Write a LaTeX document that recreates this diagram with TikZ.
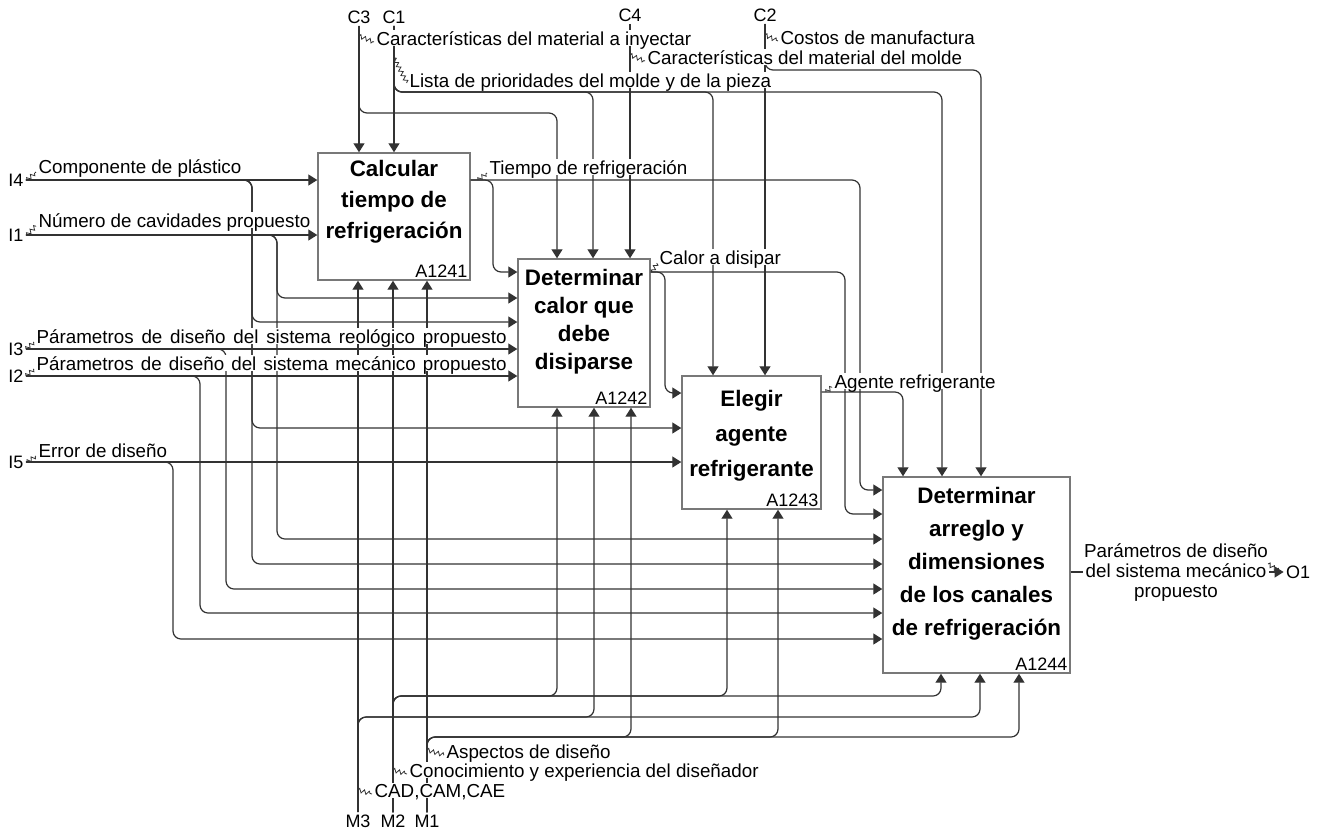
\documentclass[tikz,border=0pt]{standalone}
\usepackage{fontspec}
\setmainfont{Liberation Sans}
\usepackage{tikz}
\usetikzlibrary{arrows.meta,decorations.pathmorphing,positioning,calc}

\begin{document}
\begin{tikzpicture}[x=0.5pt,y=-0.5pt,
    proc/.style={draw=boxgray,line width=0.7pt,inner sep=0pt},
    ptitle/.style={align=center,font={\bfseries\fontsize{11.2}{#1}\selectfont}},
    pid/.style={anchor=south east,inner sep=1.5pt,font=\fontsize{9}{10}\selectfont},
    port/.style={font=\fontsize{9}{10}\selectfont,inner sep=1pt},
    flow/.style={draw=linegray,line width=0.6pt,rounded corners=4pt,-{Triangle[length=4.5pt,width=5.5pt]}},
    lbl/.style={font=\fontsize{9.4}{11}\selectfont,fill=white,inner sep=0.6pt,text depth=0pt},
    squig/.style={draw=linegray,line width=0.4pt,decorate,decoration={zigzag,segment length=2.5pt,amplitude=1pt}}]
    \definecolor{boxgray}{RGB}{120,120,120}
    \definecolor{linegray}{RGB}{50,50,50}

    \useasboundingbox (0,0) rectangle (1317,832);

    \node[proc,minimum width=76pt,minimum height=63.5pt] (a1241) at (394,216.5) {};
    \node[proc,minimum width=66pt,minimum height=74pt] (a1242) at (584,333) {};
    \node[proc,minimum width=69.5pt,minimum height=66.5pt] (a1243) at (751.5,442.5) {};
    \node[proc,minimum width=93.5pt,minimum height=98pt] (a1244) at (976.5,575) {};

    \node[ptitle=15.5pt] (t1241) at (394,202) {Calcular\\tiempo de\\refrigeración};
    \node[ptitle=14pt] (t1242) at (584,322) {Determinar\\calor que\\debe\\disiparse};
    \node[ptitle=17.5pt] (t1243) at (751.5,436) {Elegir\\agente\\refrigerante};
    \node[ptitle=16.5pt] (t1244) at (976.5,564) {Determinar\\arreglo y\\dimensiones\\de los canales\\de refrigeración};

    \node[pid] (n1241) at (a1241.south east) {A1241};
    \node[pid] (n1242) at (a1242.south east) {A1242};
    \node[pid] (n1243) at (a1243.south east) {A1243};
    \node[pid] (n1244) at (a1244.south east) {A1244};

    \node[port] (c3) at (359,17) {C3};
    \node[port] (c1) at (394,17) {C1};
    \node[port] (c4) at (630,15) {C4};
    \node[port] (c2) at (765,15) {C2};
    \node[port] (i4) at (16,180) {I4};
    \node[port] (i1) at (16,235) {I1};
    \node[port] (i3) at (16,349) {I3};
    \node[port] (i2) at (16,376) {I2};
    \node[port] (i5) at (16,462) {I5};
    \node[port] (m3) at (358,821) {M3};
    \node[port] (m2) at (393,821) {M2};
    \node[port] (m1) at (427,821) {M1};
    \node[port] (o1) at (1298,572) {O1};

    \draw[flow] (c3) -- (c3 |- a1241.north);
    \draw[flow] (c3) |- (557,113) -- (557,113 |- a1242.north);
    \draw[flow] (c1) -- (c1 |- a1241.north);
    \draw[flow] (c1) |- (593,92) -- (593,92 |- a1242.north);
    \draw[flow] (c1) |- (713,92) -- (713,92 |- a1243.north);
    \draw[flow] (c1) |- (942,92) -- (942,92 |- a1244.north);
    \draw[flow] (c4) -- (c4 |- a1242.north);
    \draw[flow] (c2) -- (c2 |- a1243.north);
    \draw[flow] (c2) |- (981,70) -- (981,70 |- a1244.north);

    \draw[flow] (i4) -- (i4 -| a1241.west);
    \draw[flow] (i4) -| (252,322) -- (252,322 -| a1242.west);
    \draw[flow] (i4) -| (252,428) -- (252,428 -| a1243.west);
    \draw[flow] (i4) -| (252,564) -- (252,564 -| a1244.west);
    \draw[flow] (i1) -- (i1 -| a1241.west);
    \draw[flow] (i1) -| (277,298) -- (277,298 -| a1242.west);
    \draw[flow] (i1) -| (277,539) -- (277,539 -| a1244.west);
    \draw[flow] (i3) -- (i3 -| a1242.west);
    \draw[flow] (i3) -| (226,589) -- (226,589 -| a1244.west);
    \draw[flow] (i2) -- (i2 -| a1242.west);
    \draw[flow] (i2) -| (200,613) -- (200,613 -| a1244.west);
    \draw[flow] (i5) -- (i5 -| a1243.west);
    \draw[flow] (i5) -| (173,639) -- (173,639 -| a1244.west);

    \draw[flow] (a1241.east |- 0,180) -| (493,272) -- (493,272 -| a1242.west);
    \draw[flow] (a1241.east |- 0,180) -| (860,490) -- (860,490 -| a1244.west);
    \draw[flow] (a1242.east |- 0,272) -| (665,393) -- (665,393 -| a1243.west);
    \draw[flow] (a1242.east |- 0,272) -| (845,514) -- (845,514 -| a1244.west);
    \draw[flow] (a1243.east |- 0,392) -| (903,392 |- a1244.north);
    \draw[flow] (a1244.east |- 0,572) -- (o1);

    \draw[flow] (m3) -- (m3 |- a1241.south);
    \draw[flow] (m3) |- (594,717) -- (594,717 |- a1242.south);
    \draw[flow] (m3) |- (980,717) -- (980,717 |- a1244.south);
    \draw[flow] (m2) -- (m2 |- a1241.south);
    \draw[flow] (m2) |- (557,696) -- (557,696 |- a1242.south);
    \draw[flow] (m2) |- (727,696) -- (727,696 |- a1243.south);
    \draw[flow] (m2) |- (941,696) -- (941,696 |- a1244.south);
    \draw[flow] (m1) -- (m1 |- a1241.south);
    \draw[flow] (m1) |- (631,737) -- (631,737 |- a1242.south);
    \draw[flow] (m1) |- (778,737) -- (778,737 |- a1243.south);
    \draw[flow] (m1) |- (1019,737) -- (1019,737 |- a1244.south);

    \node[lbl,anchor=base west] (l-c3) at (375,45) {Características del material a inyectar};
    \node[lbl,anchor=base west] (l-c1) at (408,87) {Lista de prioridades del molde y de la pieza};
    \node[lbl,anchor=base west] (l-c4) at (646,64) {Características del material del molde};
    \node[lbl,anchor=base west] (l-c2) at (779,44) {Costos de manufactura};
    \node[lbl,anchor=base west] (l-i4) at (37,173) {Componente de plástico};
    \node[lbl,anchor=base west] (l-i1) at (37,227) {Número de cavidades propuesto};
    \node[lbl,anchor=base west] (l-i3) at (35,343) {\makebox[235pt][s]{Párametros de diseño del sistema reológico propuesto}};
    \node[lbl,anchor=base west] (l-i2) at (35,370) {\makebox[235pt][s]{Párametros de diseño del sistema mecánico propuesto}};
    \node[lbl,anchor=base west] (l-i5) at (37,457) {Error de diseño};
    \node[lbl,anchor=base west] (l-t) at (488,174) {Tiempo de refrigeración};
    \node[lbl,anchor=base west] (l-q) at (658,264) {Calor a disipar};
    \node[lbl,anchor=base west] (l-ag) at (833,388) {Agente refrigerante};
    \node[lbl,anchor=base west] (l-m1) at (445,758) {Aspectos de diseño};
    \node[lbl,anchor=base west] (l-m2) at (408,777) {Conocimiento y experiencia del diseñador};
    \node[lbl,anchor=base west] (l-m3) at (373,797) {CAD,CAM,CAE};
    \node[lbl,align=center,font=\fontsize{9.4}{10}\selectfont] (l-o1) at (1176,571) {Parámetros de diseño\\del sistema mecánico\\propuesto};

    \draw[squig] (c3 |- 0,36) -- ($(l-c3.base west)+(-1,-3)$);
    \draw[squig] (c1 |- 0,58) -- ($(l-c1.base west)+(-1,-4)$);
    \draw[squig] (c4 |- 0,55) -- ($(l-c4.base west)+(-1,-3)$);
    \draw[squig] (c2 |- 0,35) -- ($(l-c2.base west)+(-1,-3)$);
    \draw[squig] (27,0 |- i4) -- ($(l-i4.base west)+(-1,-1)$);
    \draw[squig] (27,0 |- i1) -- ($(l-i1.base west)+(-1,-1)$);
    \draw[squig] (26,0 |- i3) -- ($(l-i3.base west)+(-1,-1)$);
    \draw[squig] (26,0 |- i2) -- ($(l-i2.base west)+(-1,-1)$);
    \draw[squig] (27,0 |- i5) -- ($(l-i5.base west)+(-1,-1)$);
    \draw[squig] (478,180) -- ($(l-t.base west)+(-1,-1)$);
    \draw[squig] (652,272) -- ($(l-q.base west)+(-1,-1)$);
    \draw[squig] (826,392) -- ($(l-ag.base west)+(-1,-1)$);
    \draw[squig] (m1 |- 0,750) -- ($(l-m1.base west)+(-1,-3)$);
    \draw[squig] (m2 |- 0,770) -- ($(l-m2.base west)+(-1,-3)$);
    \draw[squig] (m3 |- 0,790) -- ($(l-m3.base west)+(-1,-3)$);
    \draw[squig] (1268,564) -- (1279,571);
\end{tikzpicture}
\end{document}
